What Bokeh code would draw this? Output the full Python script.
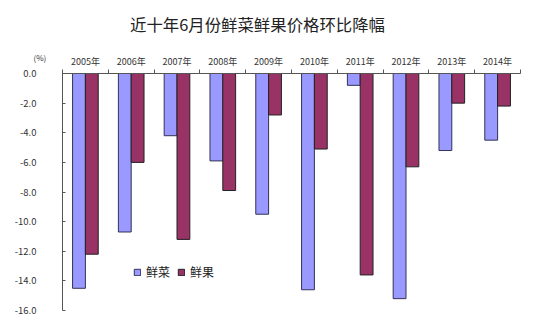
from bokeh.plotting import figure
from bokeh.models import Range1d, FixedTicker, ColumnDataSource, Label, Legend, LegendItem, LinearAxis, PrintfTickFormatter
from bokeh.embed import file_html
from bokeh.resources import INLINE

years = ["2005年", "2006年", "2007年", "2008年", "2009年", "2010年", "2011年", "2012年", "2013年", "2014年"]
vegetables = [-14.5, -10.7, -4.2, -5.9, -9.5, -14.6, -0.8, -15.2, -5.2, -4.5]
fruits = [-12.2, -6.0, -11.2, -7.9, -2.8, -5.1, -13.6, -6.3, -2.0, -2.2]
y_ticks = [0, -2, -4, -6, -8, -10, -12, -14, -16]

FONT = "Noto Sans CJK SC"
W, H = 550, 327
n = len(years)
centers = [i + 0.5 for i in range(n)]
bw = 0.28

# plot area inside the canvas (pixels)
PL, PR, PT, PB = 62, 520, 73, 310
YMIN, YMAX = -16, 0
xs = n / (PR - PL)
ys = (YMAX - YMIN) / (PB - PT)

def dx(px):
    return (px - PL) * xs

def dy(py):
    return YMAX + (PT - py) * ys

src = ColumnDataSource(dict(
    xv=[c - bw / 2 for c in centers],
    xf=[c + bw / 2 for c in centers],
    veg=vegetables, fru=fruits,
))

p = figure(width=W, height=H, output_backend="svg", toolbar_location=None,
           x_range=Range1d(dx(0), dx(W)), y_range=Range1d(dy(H), dy(0)),
           x_axis_location=None, y_axis_location=None,
           min_border=0, min_border_left=0, min_border_right=0, min_border_top=0, min_border_bottom=0)
p.background_fill_color = "white"
p.border_fill_color = "white"
p.outline_line_color = None
p.grid.visible = False

r1 = p.vbar(x="xv", top=0, bottom="veg", width=bw, source=src,
            fill_color="#9999FF", line_color="#333355", line_width=1)
r2 = p.vbar(x="xf", top=0, bottom="fru", width=bw, source=src,
            fill_color="#993366", line_color="#222222", line_width=1)

xaxis = LinearAxis(ticker=FixedTicker(ticks=centers, minor_ticks=list(range(n + 1))),
                   fixed_location=0, bounds=(0, n))
xaxis.major_label_overrides = {c: y for c, y in zip(centers, years)}
xaxis.major_tick_in = 0
xaxis.major_tick_out = 0
xaxis.minor_tick_in = 0
xaxis.minor_tick_out = 4
xaxis.axis_line_color = "#555555"
xaxis.minor_tick_line_color = "#555555"
xaxis.major_label_text_font = FONT
xaxis.major_label_text_font_size = "9px"
xaxis.major_label_text_color = "#333333"
xaxis.major_label_standoff = 2
p.add_layout(xaxis, "above")

yaxis = LinearAxis(ticker=FixedTicker(ticks=y_ticks, minor_ticks=[]),
                   fixed_location=0, bounds=(YMIN, YMAX))
yaxis.formatter = PrintfTickFormatter(format="%.1f")
yaxis.major_tick_in = 3
yaxis.major_tick_out = 0
yaxis.axis_line_color = "#555555"
yaxis.major_tick_line_color = "#555555"
yaxis.major_label_text_font = FONT
yaxis.major_label_text_font_size = "9.5px"
yaxis.major_label_text_color = "#333333"
yaxis.major_label_standoff = 26
p.add_layout(yaxis, "left")

p.add_layout(Label(x=dx(257), y=dy(23), text="近十年6月份鲜菜鲜果价格环比降幅",
                   text_font=FONT, text_font_size="16.4px", text_color="#222222",
                   text_align="center", text_baseline="middle"))

p.add_layout(Label(x=dx(33), y=dy(57), text="(%)", text_font=FONT, text_font_size="8px",
                   text_color="#333333", text_baseline="middle"))

legend = Legend(items=[LegendItem(label="鲜菜", renderers=[r1]), LegendItem(label="鲜果", renderers=[r2])],
                orientation="horizontal", location=(133, 47))
legend.label_text_font = FONT
legend.label_text_font_size = "12px"
legend.label_text_color = "#222222"
legend.glyph_width = 8
legend.glyph_height = 8
legend.spacing = 7
legend.label_standoff = 5
legend.padding = 2
legend.border_line_color = None
legend.background_fill_alpha = 0
p.add_layout(legend, "center")

open("out.html", "w").write(file_html(p, INLINE))
